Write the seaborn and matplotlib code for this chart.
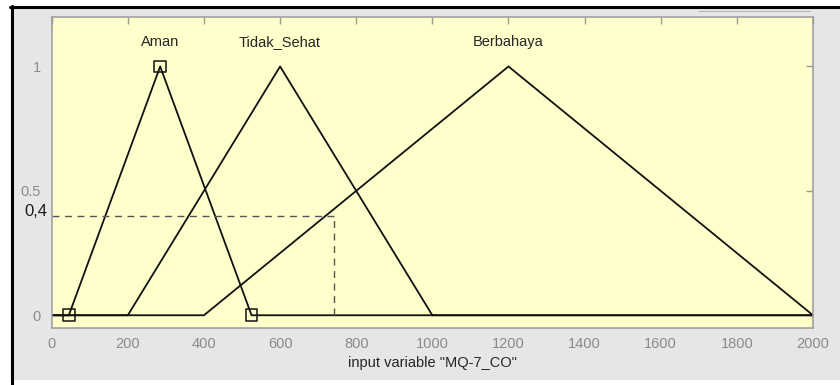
import matplotlib
matplotlib.use("Agg")
import matplotlib.pyplot as plt
from matplotlib.patches import Rectangle
from matplotlib.lines import Line2D
import seaborn as sns
import pandas as pd

# ---- data ----
mf_names = ["Aman", "Tidak_Sehat", "Berbahaya"]
aman_params = [45, 285, 525]
tidak_sehat_params = [200, 600, 1000]
berbahaya_params = [400, 1200, 2000]
x_range = [0, 2000]
x_ticks = [0, 200, 400, 600, 800, 1000, 1200, 1400, 1600, 1800, 2000]
y_ticks = [0, 0.5, 1]
y_tick_labels = ["0", "0.5", "1"]
cut_level = 0.4
cut_x = 741
x_label = 'input variable "MQ-7_CO"'

sns.set_style("white")
plt.rcParams["font.family"] = ["Liberation Sans", "DejaVu Sans"]

fig = plt.figure(figsize=(8.4, 3.85), dpi=100)
fig.patch.set_facecolor("white")

# grey MATLAB panel + black frame
fig.patches.append(Rectangle((14 / 840, 5 / 385), 1 - 14 / 840, 371 / 385,
                             transform=fig.transFigure, facecolor="#e6e6e6",
                             edgecolor="none", zorder=-5))
fig.lines.append(Line2D([10 / 840, 1], [1 - 6.5 / 385, 1 - 6.5 / 385],
                        transform=fig.transFigure, color="black", lw=2.2, zorder=-4))
fig.lines.append(Line2D([11.5 / 840, 11.5 / 840], [0, 1 - 5.5 / 385],
                        transform=fig.transFigure, color="black", lw=2.2, zorder=-4))
fig.lines.append(Line2D([698 / 840, 810 / 840], [1 - 10.7 / 385, 1 - 10.7 / 385],
                        transform=fig.transFigure, color="#b4b4b4", lw=0.8, zorder=-4))

ax = fig.add_axes([51.7 / 840, (385 - 327.7) / 385, (813 - 51.7) / 840, (327.7 - 16.7) / 385])
ax.set_zorder(2)
ax.set_facecolor("#ffffcc")

params = [aman_params, tidak_sehat_params, berbahaya_params]
for name, p in zip(mf_names, params):
    df = pd.DataFrame({"x": [x_range[0], p[0], p[1], p[2], x_range[1]],
                       "y": [0, 0, 1, 0, 0]})
    sns.lineplot(data=df, x="x", y="y", ax=ax, color="#111111", lw=1.3,
                 sort=False, estimator=None)
    ax.text(p[1], 1.1, name, ha="center", va="center", fontsize=10.5, color="#262626")

# selected MF vertices (Aman)
mk = pd.DataFrame({"x": aman_params, "y": [0, 1, 0]})
sns.scatterplot(data=mk, x="x", y="y", ax=ax, marker="s", s=70,
                facecolors="none", edgecolor="#111111", linewidth=1.1, zorder=5)

# cut lines
ax.plot([x_range[0], cut_x], [cut_level, cut_level], ls=(0, (5, 4)), color="#555555", lw=1)
ax.plot([cut_x, cut_x], [0, cut_level], ls=(0, (5, 4)), color="#555555", lw=1)

ax.set_xlim(x_range)
ax.set_ylim(-0.05, 1.2)
ax.set_xticks(x_ticks)
ax.set_yticks(y_ticks)
ax.set_yticklabels(y_tick_labels)
ax.tick_params(direction="in", length=5, width=1, color="#999999",
               labelcolor="#8a8a8a", labelsize=10.5, top=True, right=True, pad=7)
ax.tick_params(axis="y", pad=8)
for s in ax.spines.values():
    s.set_color("#9a9a9a")
    s.set_linewidth(1.1)
    s.set_visible(True)

ax.set_xlabel(x_label, fontsize=10.5, color="#262626", labelpad=3)
ax.set_ylabel("")

fig.text(47 / 840, 1 - 212 / 385, "0,4", ha="right", va="center",
         fontsize=12, color="#1a1a1a")

fig.savefig("out.png", dpi=100)
